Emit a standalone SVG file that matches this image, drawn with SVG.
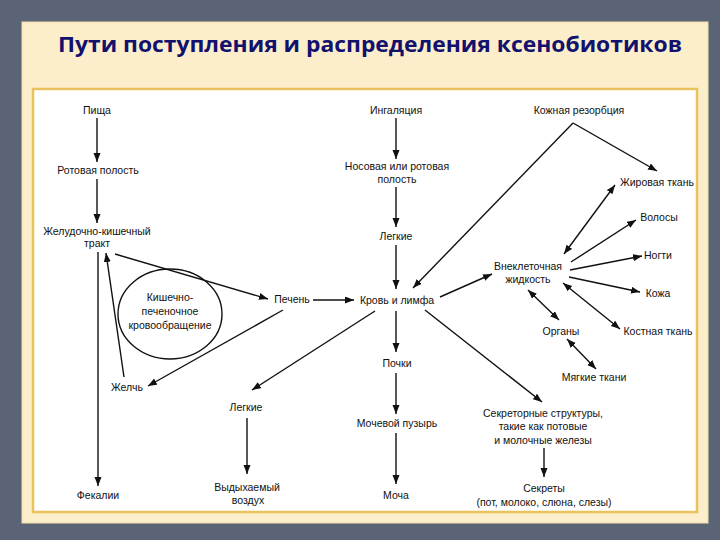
<svg xmlns="http://www.w3.org/2000/svg" width="720" height="540" viewBox="0 0 720 540">
<style>
.t{font-family:"Liberation Sans",Arial,sans-serif;font-size:10.5px;fill:#111;text-anchor:middle}
.c line,.c path{stroke:#111;stroke-width:1.4;fill:none}
</style>
<defs>
<marker id="ah" markerUnits="userSpaceOnUse" markerWidth="10" markerHeight="8" refX="9" refY="3.5" orient="auto-start-reverse"><path d="M0,0 L9,3.5 L0,7 z" fill="#111"/></marker>
</defs>
<rect x="0" y="0" width="720" height="540" fill="#5b6377"/>
<rect x="22" y="22" width="686" height="501" fill="#fdeecb" stroke="#f2dea6" stroke-width="1"/>
<text x="370" y="52" font-family="'Open Sans','Noto Sans',sans-serif" font-weight="700" font-size="22" fill="#12116e" text-anchor="middle" textLength="624" lengthAdjust="spacingAndGlyphs">Пути поступления и распределения ксенобиотиков</text>
<rect x="33" y="89" width="664" height="423" fill="#fff" stroke="#e8c25c" stroke-width="2.5"/>

<g class="c" id="connectors">
<line x1="97" y1="118" x2="97" y2="162" marker-end="url(#ah)"/>
<line x1="97" y1="179" x2="97" y2="223" marker-end="url(#ah)"/>
<line x1="98" y1="252" x2="98" y2="486" marker-end="url(#ah)"/>
<line x1="124" y1="377" x2="106" y2="253" marker-end="url(#ah)"/>
<line x1="115" y1="254" x2="268" y2="299" marker-end="url(#ah)"/>
<line x1="283" y1="310" x2="148" y2="386" marker-end="url(#ah)"/>
<line x1="313" y1="300" x2="354" y2="300" marker-end="url(#ah)"/>
<line x1="396" y1="118" x2="396" y2="159" marker-end="url(#ah)"/>
<line x1="396" y1="187" x2="396" y2="227" marker-end="url(#ah)"/>
<line x1="396" y1="245" x2="396" y2="289" marker-end="url(#ah)"/>
<line x1="573" y1="123" x2="413" y2="288" marker-end="url(#ah)"/>
<line x1="573" y1="123" x2="657" y2="171" marker-end="url(#ah)"/>
<line x1="440" y1="297" x2="492" y2="274" marker-end="url(#ah)"/>
<line x1="564" y1="254" x2="615" y2="185" marker-start="url(#ah)" marker-end="url(#ah)"/>
<line x1="571" y1="262" x2="636" y2="220" marker-end="url(#ah)"/>
<line x1="570" y1="270" x2="642" y2="256" marker-end="url(#ah)"/>
<line x1="569" y1="277" x2="640" y2="292" marker-end="url(#ah)"/>
<line x1="563" y1="283" x2="620" y2="329" marker-start="url(#ah)" marker-end="url(#ah)"/>
<line x1="528" y1="290" x2="559" y2="320" marker-start="url(#ah)" marker-end="url(#ah)"/>
<line x1="567" y1="339" x2="596" y2="369" marker-start="url(#ah)" marker-end="url(#ah)"/>
<line x1="396" y1="311" x2="396" y2="352" marker-end="url(#ah)"/>
<line x1="396" y1="373" x2="396" y2="414" marker-end="url(#ah)"/>
<line x1="396" y1="433" x2="396" y2="484" marker-end="url(#ah)"/>
<line x1="375" y1="311" x2="252" y2="390" marker-end="url(#ah)"/>
<line x1="247" y1="418" x2="247" y2="474" marker-end="url(#ah)"/>
<line x1="425" y1="310" x2="542" y2="402" marker-end="url(#ah)"/>
<line x1="544" y1="448" x2="544" y2="477" marker-end="url(#ah)"/>
</g>

<g id="n-pishcha"><text class="t" x="97" y="114">Пища</text></g>
<g id="n-rot"><text class="t" x="98" y="174">Ротовая полость</text></g>
<g id="n-zhkt"><text class="t" x="97" y="235">Желудочно-кишечный</text><text class="t" x="97" y="247">тракт</text></g>
<g id="n-cycle"><ellipse cx="170" cy="314" rx="52" ry="45" fill="none" stroke="#111" stroke-width="1.4"/><text class="t" x="170" y="301">Кишечно-</text><text class="t" x="170" y="315">печеночное</text><text class="t" x="170" y="329">кровообращение</text></g>
<g id="n-zhelch"><text class="t" x="127" y="391">Желчь</text></g>
<g id="n-fekalii"><text class="t" x="98" y="499">Фекалии</text></g>
<g id="n-pechen"><text class="t" x="292" y="303">Печень</text></g>
<g id="n-krov"><text class="t" x="397" y="304">Кровь и лимфа</text></g>
<g id="n-ingal"><text class="t" x="396" y="114">Ингаляция</text></g>
<g id="n-nos"><text class="t" x="397" y="170">Носовая или ротовая</text><text class="t" x="397" y="183">полость</text></g>
<g id="n-legkie"><text class="t" x="396" y="240">Легкие</text></g>
<g id="n-kozh"><text class="t" x="579" y="114">Кожная резорбция</text></g>
<g id="n-zhir"><text class="t" x="657" y="186">Жировая ткань</text></g>
<g id="n-volosy"><text class="t" x="659" y="221">Волосы</text></g>
<g id="n-nogti"><text class="t" x="658" y="259">Ногти</text></g>
<g id="n-kozha"><text class="t" x="658" y="297">Кожа</text></g>
<g id="n-kost"><text class="t" x="658" y="335">Костная ткань</text></g>
<g id="n-vnekl"><text class="t" x="528" y="270">Внеклеточная</text><text class="t" x="528" y="283">жидкость</text></g>
<g id="n-organy"><text class="t" x="561" y="335">Органы</text></g>
<g id="n-myagk"><text class="t" x="594" y="381">Мягкие ткани</text></g>
<g id="n-pochki"><text class="t" x="397" y="367">Почки</text></g>
<g id="n-puzyr"><text class="t" x="397" y="427">Мочевой пузырь</text></g>
<g id="n-mocha"><text class="t" x="396" y="499">Моча</text></g>
<g id="n-legkie2"><text class="t" x="246" y="411">Легкие</text></g>
<g id="n-vozduh"><text class="t" x="247" y="491">Выдыхаемый</text><text class="t" x="248" y="504">воздух</text></g>
<g id="n-sekr"><text class="t" x="543" y="417">Секреторные структуры,</text><text class="t" x="543" y="430">такие как потовые</text><text class="t" x="543" y="444">и молочные железы</text></g>
<g id="n-sekrety"><text class="t" x="544" y="492">Секреты</text><text class="t" x="544" y="506">(пот, молоко, слюна, слезы)</text></g>
</svg>
